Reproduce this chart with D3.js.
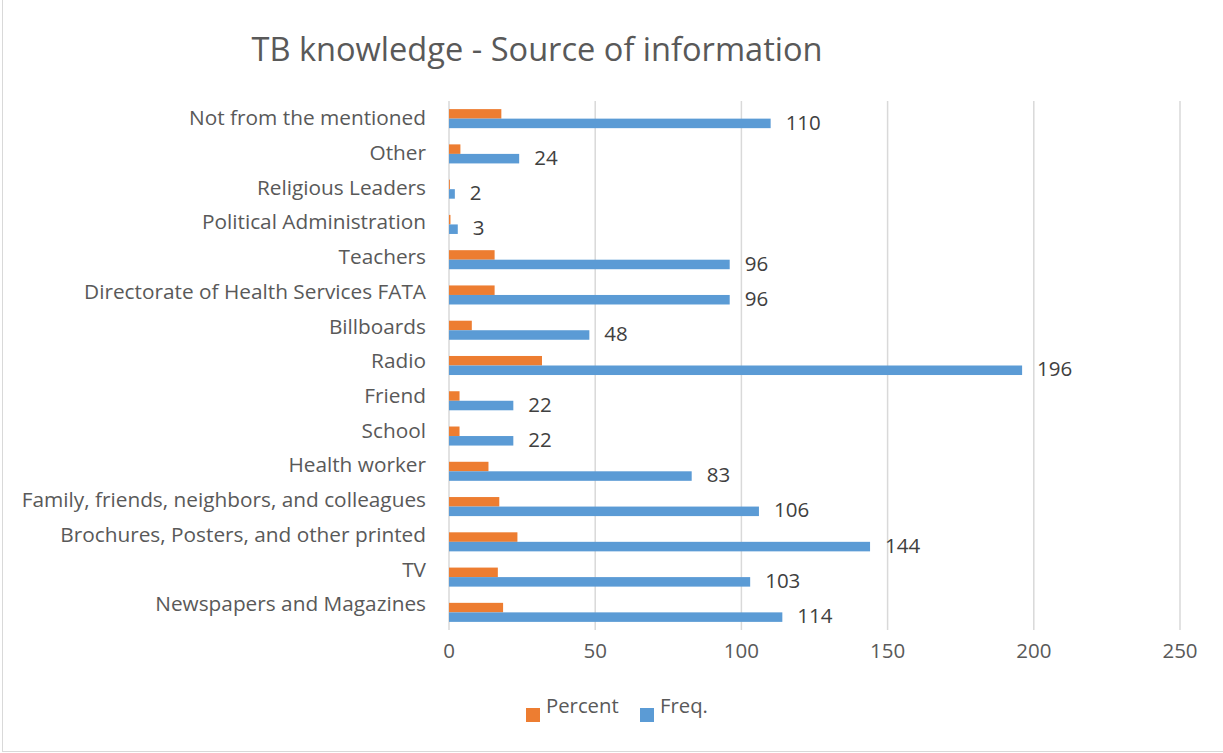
<!DOCTYPE html>
<html>
<head>
<meta charset="utf-8">
<script src="https://cdn.jsdelivr.net/npm/d3@7"></script>
<style>
  body { margin: 0; background: #fff; }
  text { font-family: "Open Sans", sans-serif; }
</style>
</head>
<body>
<div id="vis"></div>
<script>
// data, bottom to top as in the chart
var categories = ["Newspapers and Magazines", "TV", "Brochures, Posters, and other printed",
  "Family, friends, neighbors, and colleagues", "Health worker", "School", "Friend", "Radio",
  "Billboards", "Directorate of Health Services FATA", "Teachers", "Political Administration",
  "Religious Leaders", "Other", "Not from the mentioned"];
var freq    = [114, 103, 144, 106, 83, 22, 22, 196, 48, 96, 96, 3, 2, 24, 110];
var percent = [18.5, 16.7, 23.4, 17.2, 13.5, 3.6, 3.6, 31.8, 7.8, 15.6, 15.6, 0.5, 0.3, 3.9, 17.9];
var seriesNames = ["Percent", "Freq."];
var xTicks = [0, 50, 100, 150, 200, 250];

var W = 1223, H = 753;
var plot = { left: 449, right: 1180, top: 101, bottom: 630 };
var colors = { "Percent": "#ed7d31", "Freq.": "#5b9bd5" };

var svg = d3.select("#vis").append("svg")
  .attr("width", W)
  .attr("height", H);

// chart frame (only left and bottom edges visible)
svg.append("rect")
  .attr("x", 2.5).attr("y", -10)
  .attr("width", W + 10).attr("height", 761.5)
  .attr("fill", "none")
  .attr("stroke", "#d9d9d9");

var x = d3.scaleLinear().domain([0, 250]).range([plot.left, plot.right]);

// top category first on screen
var order = categories.slice().reverse();
var y = d3.scaleBand().domain(order)
  .range([plot.top, plot.bottom])
  .paddingInner(0.46).paddingOuter(0.23);
var ySub = d3.scaleBand().domain(seriesNames).range([0, y.bandwidth()]);

// labels sit a little higher towards the bottom, like the original
var yLabel = d3.scalePoint().domain(order).range([118, 604]);

// title
svg.append("text")
  .attr("x", 537).attr("y", 61)
  .attr("text-anchor", "middle")
  .attr("font-size", 32.6)
  .attr("fill", "#595959")
  .text("TB knowledge - Source of information");

// gridlines
svg.append("g").selectAll("line")
  .data(xTicks)
  .enter().append("line")
  .attr("x1", function (d) { return x(d); })
  .attr("x2", function (d) { return x(d); })
  .attr("y1", plot.top).attr("y2", plot.bottom)
  .attr("stroke", "#d9d9d9")
  .attr("stroke-width", 1.5);

// tick labels
svg.append("g").selectAll("text")
  .data(xTicks)
  .enter().append("text")
  .attr("x", function (d) { return x(d); })
  .attr("y", 658)
  .attr("text-anchor", "middle")
  .attr("font-size", 20.5)
  .attr("fill", "#595959")
  .text(function (d) { return d; });

// category labels
svg.append("g").selectAll("text")
  .data(order)
  .enter().append("text")
  .attr("x", 426)
  .attr("y", function (d) { return yLabel(d); })
  .attr("dy", "0.35em")
  .attr("text-anchor", "end")
  .attr("font-size", 20.8)
  .attr("fill", "#595959")
  .text(function (d) { return d; });

// bars
var rows = categories.map(function (c, i) {
  return { cat: c, vals: [{ s: "Percent", v: percent[i] }, { s: "Freq.", v: freq[i] }] };
});

var groups = svg.append("g").selectAll("g")
  .data(rows)
  .enter().append("g")
  .attr("transform", function (d) { return "translate(0," + y(d.cat) + ")"; });

groups.selectAll("rect")
  .data(function (d) { return d.vals; })
  .enter().append("rect")
  .attr("x", x(0))
  .attr("y", function (d) { return ySub(d.s); })
  .attr("width", function (d) { return x(d.v) - x(0); })
  .attr("height", ySub.bandwidth())
  .attr("fill", function (d) { return colors[d.s]; });

// freq data labels
groups.append("text")
  .attr("x", function (d) { return x(d.vals[1].v) + 15; })
  .attr("y", function (d) { return ySub("Freq.") + ySub.bandwidth() / 2; })
  .attr("dy", "0.3em")
  .attr("font-size", 20.5)
  .attr("fill", "#404040")
  .text(function (d) { return d.vals[1].v; });

// legend
var legend = svg.append("g").selectAll("g")
  .data(seriesNames)
  .enter().append("g")
  .attr("transform", function (d, i) { return "translate(" + (526 + i * 114) + ",0)"; });

legend.append("rect")
  .attr("x", 0).attr("y", 708)
  .attr("width", 14).attr("height", 14)
  .attr("fill", function (d) { return colors[d]; });

legend.append("text")
  .attr("x", 20).attr("y", 713)
  .attr("font-size", 20.3)
  .attr("fill", "#595959")
  .text(function (d) { return d; });
</script>
</body>
</html>
